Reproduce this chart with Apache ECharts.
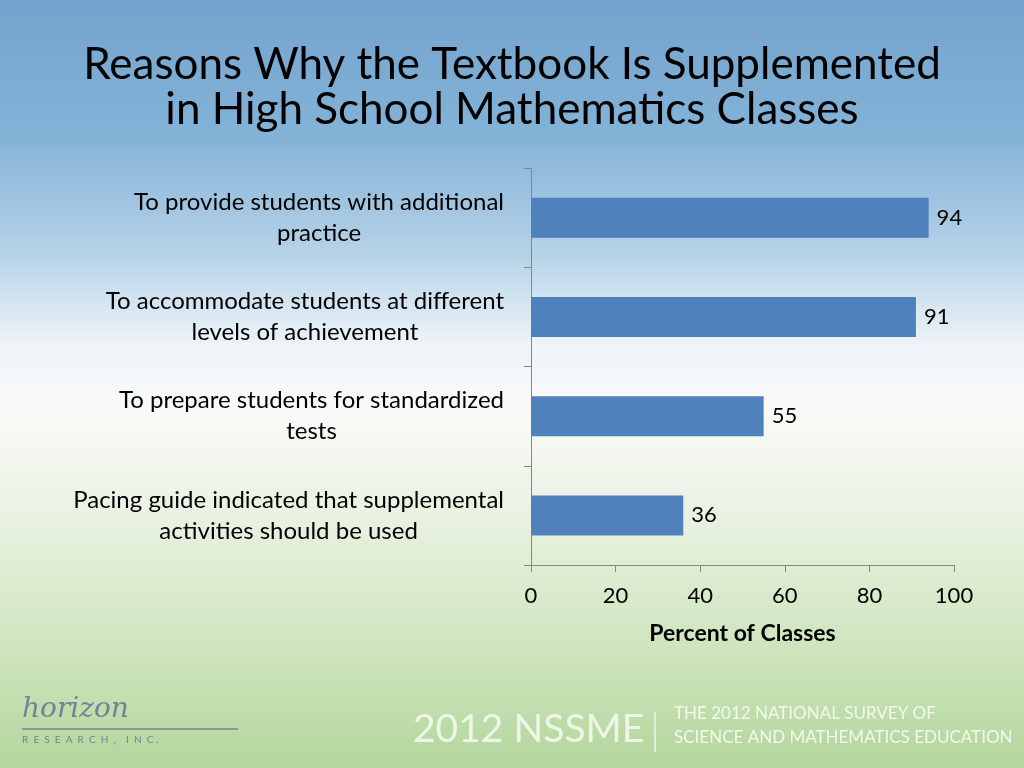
<!DOCTYPE html>
<html>
<head>
<meta charset="utf-8">
<script src="https://cdn.jsdelivr.net/npm/echarts@6/dist/echarts.min.js"></script>
<style>
html,body{margin:0;padding:0;width:1024px;height:768px;overflow:hidden;}
#chart{width:1024px;height:768px;}
</style>
</head>
<body>
<div id="chart"></div>
<script>
var categories = [
  "To provide students with additional\npractice",
  "To accommodate students at different\nlevels of achievement",
  "To prepare students for standardized\ntests",
  "Pacing guide indicated that supplemental\nactivities should be used"
];
var values = [94, 91, 55, 36];
var xTicks = [0, 20, 40, 60, 80, 100];
var titleLines = ["Reasons Why the Textbook Is Supplemented", "in High School Mathematics Classes"];
var axisName = "Percent of Classes";

var FONT = "Lato, 'Open Sans', sans-serif";
var chart = echarts.init(document.getElementById('chart'));
chart.setOption({
  backgroundColor: {
    type: 'linear', x: 0, y: 0, x2: 0, y2: 1,
    colorStops: [
      {offset: 0, color: '#73a3cc'},
      {offset: 0.18, color: '#84b3d8'},
      {offset: 0.33, color: '#b6d2e7'},
      {offset: 0.45, color: '#eef4f8'},
      {offset: 0.53, color: '#fafbf9'},
      {offset: 0.68, color: '#e8f1e0'},
      {offset: 0.84, color: '#cfe5be'},
      {offset: 1, color: '#b3d69c'}
    ]
  },
  animation: false,
  title: {
    text: titleLines.join('\n'),
    left: 'center', top: 37,
    textStyle: {fontFamily: FONT, fontSize: 44, fontWeight: 'normal', color: '#000', lineHeight: 45}
  },
  grid: {left: 531, right: 70, top: 168, bottom: 203, containLabel: false},
  xAxis: {
    type: 'value', min: 0, max: 100, interval: 20,
    name: axisName, nameLocation: 'middle', nameGap: 57,
    nameTextStyle: {fontFamily: FONT, fontSize: 23, fontWeight: 'bold', color: '#000'},
    axisLine: {show: true, lineStyle: {color: '#868686', width: 1}},
    axisTick: {show: true, length: 7, lineStyle: {color: '#868686'}},
    splitLine: {show: false},
    axisLabel: {fontFamily: FONT, fontSize: 22, color: '#000', margin: 20,
      formatter: function (v) { return xTicks.indexOf(v) >= 0 ? String(v) : ''; }}
  },
  yAxis: {
    type: 'category', data: categories, inverse: true,
    axisLine: {show: true, lineStyle: {color: '#868686', width: 1}},
    axisTick: {show: true, length: 7, lineStyle: {color: '#868686'}},
    axisLabel: {
      fontFamily: FONT, fontSize: 24, color: '#000', margin: 27, align: 'right', lineHeight: 31,
      formatter: function (v) {
        return v.split('\n').map(function (s) { return '{c|' + s + '}'; }).join('\n');
      },
      rich: {c: {align: 'center', fontFamily: FONT, fontSize: 24, color: '#000', lineHeight: 31}}
    }
  },
  series: [{
    type: 'bar', data: values, barWidth: 40,
    itemStyle: {color: '#4f81bd'},
    label: {show: true, position: 'right', distance: 8, fontFamily: FONT, fontSize: 22, color: '#000'}
  }],
  graphic: [
    {type: 'text', left: 413, top: 710, style: {text: '2012 NSSME', fontFamily: FONT, fontSize: 39, fill: '#eef6e8'}},
    {type: 'line', shape: {x1: 655, y1: 712, x2: 655, y2: 752}, style: {stroke: '#eef6e8', lineWidth: 1.5}},
    {type: 'text', left: 674, top: 705, style: {text: 'THE 2012 NATIONAL SURVEY OF', fontFamily: FONT, fontSize: 17, fill: '#f2f8ee'}},
    {type: 'text', left: 674, top: 729, style: {text: 'SCIENCE AND MATHEMATICS EDUCATION', fontFamily: FONT, fontSize: 17, fill: '#f2f8ee'}},
    {type: 'text', left: 22, top: 696, style: {text: 'horizon', fontFamily: "'DejaVu Serif', serif", fontStyle: 'italic', fontSize: 28, fill: '#6f8595'}},
    {type: 'line', shape: {x1: 22, y1: 729, x2: 238, y2: 729}, style: {stroke: '#6f8595', lineWidth: 1.5}},
    {type: 'text', left: 22, top: 735, style: {text: 'R  E  S  E  A  R  C  H  ,    I  N  C .', fontFamily: FONT, fontSize: 10, fill: '#6f8595'}}
  ]
});
</script>
</body>
</html>
